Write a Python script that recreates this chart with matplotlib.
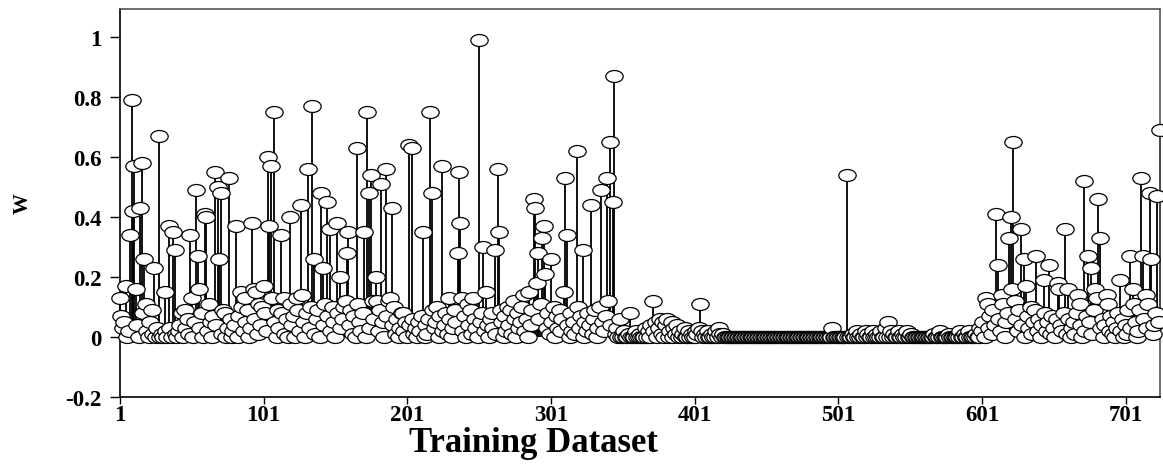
import matplotlib
matplotlib.use("Agg")
import matplotlib.pyplot as plt
import numpy as np
from matplotlib.path import Path

# weights per training sample (index 1..725)
w_001_100 = [
    0.13, 0.07, 0.03, 0.05, 0.17, 0.0, 0.02, 0.34, 0.79, 0.42, 0.57, 0.16, 0.04, 0.0, 0.43, 0.58, 0.08, 0.26, 0.11, 0.02,
    0.0, 0.05, 0.09, 0.01, 0.23, 0.0, 0.03, 0.67, 0.0, 0.01, 0.0, 0.15, 0.02, 0.0, 0.37, 0.03, 0.0, 0.35, 0.29, 0.01,
    0.0, 0.02, 0.04, 0.08, 0.0, 0.09, 0.03, 0.06, 0.01, 0.34, 0.13, 0.0, 0.05, 0.49, 0.27, 0.16, 0.03, 0.08, 0.0, 0.41,
    0.40, 0.02, 0.11, 0.05, 0.0, 0.07, 0.55, 0.04, 0.50, 0.26, 0.48, 0.01, 0.09, 0.08, 0.0, 0.03, 0.53, 0.06, 0.0, 0.02,
    0.04, 0.37, 0.0, 0.07, 0.15, 0.10, 0.02, 0.13, 0.05, 0.09, 0.0, 0.03, 0.38, 0.16, 0.06, 0.15, 0.01, 0.11, 0.04, 0.10,
]
w_101_200 = [
    0.17, 0.08, 0.02, 0.60, 0.37, 0.57, 0.13, 0.75, 0.05, 0.0, 0.09, 0.03, 0.34, 0.08, 0.13, 0.01, 0.06, 0.0, 0.40, 0.11,
    0.04, 0.07, 0.0, 0.13, 0.09, 0.02, 0.44, 0.14, 0.05, 0.0, 0.08, 0.56, 0.03, 0.10, 0.77, 0.26, 0.01, 0.06, 0.09, 0.0,
    0.48, 0.23, 0.04, 0.11, 0.45, 0.07, 0.36, 0.02, 0.10, 0.05, 0.0, 0.38, 0.08, 0.20, 0.03, 0.06, 0.10, 0.12, 0.28, 0.35,
    0.04, 0.09, 0.01, 0.07, 0.0, 0.63, 0.11, 0.05, 0.02, 0.08, 0.35, 0.0, 0.75, 0.48, 0.03, 0.54, 0.12, 0.06, 0.20, 0.12,
    0.02, 0.09, 0.51, 0.05, 0.0, 0.56, 0.07, 0.12, 0.13, 0.43, 0.04, 0.10, 0.01, 0.06, 0.0, 0.03, 0.08, 0.08, 0.02, 0.05,
]
w_201_300 = [
    0.0, 0.64, 0.04, 0.63, 0.06, 0.01, 0.03, 0.0, 0.05, 0.02, 0.07, 0.35, 0.0, 0.04, 0.01, 0.06, 0.75, 0.48, 0.09, 0.03,
    0.05, 0.10, 0.0, 0.07, 0.57, 0.02, 0.04, 0.08, 0.01, 0.13, 0.06, 0.0, 0.03, 0.09, 0.05, 0.28, 0.55, 0.38, 0.13, 0.02,
    0.07, 0.0, 0.11, 0.04, 0.09, 0.01, 0.13, 0.06, 0.03, 0.0, 0.99, 0.05, 0.08, 0.30, 0.02, 0.15, 0.04, 0.0, 0.06, 0.08,
    0.03, 0.29, 0.01, 0.56, 0.35, 0.09, 0.05, 0.0, 0.07, 0.02, 0.10, 0.04, 0.09, 0.01, 0.12, 0.06, 0.0, 0.08, 0.03, 0.05,
    0.10, 0.14, 0.02, 0.06, 0.0, 0.15, 0.04, 0.09, 0.46, 0.43, 0.18, 0.28, 0.06, 0.11, 0.33, 0.37, 0.21, 0.03, 0.08, 0.01,
]
w_301_420 = [
    0.26, 0.05, 0.10, 0.0, 0.07, 0.03, 0.09, 0.02, 0.06, 0.15, 0.53, 0.34, 0.04, 0.0, 0.08, 0.02, 0.05, 0.01, 0.62, 0.10,
    0.03, 0.07, 0.29, 0.0, 0.05, 0.02, 0.08, 0.04, 0.44, 0.01, 0.06, 0.09, 0.0, 0.03, 0.10, 0.49, 0.05, 0.02, 0.07, 0.53,
    0.12, 0.65, 0.04, 0.45, 0.87, 0.01, 0.03, 0.0, 0.06, 0.0, 0.0, 0.02, 0.0, 0.0, 0.01, 0.08, 0.0, 0.0, 0.0, 0.02,
    0.0, 0.0, 0.01, 0.0, 0.0, 0.0, 0.03, 0.0, 0.02, 0.0, 0.04, 0.12, 0.02, 0.05, 0.0, 0.03, 0.06, 0.01, 0.05, 0.0,
    0.04, 0.06, 0.0, 0.02, 0.05, 0.0, 0.03, 0.01, 0.04, 0.0, 0.02, 0.0, 0.01, 0.03, 0.0, 0.0, 0.02, 0.0, 0.01, 0.0,
    0.0, 0.02, 0.01, 0.03, 0.11, 0.02, 0.0, 0.01, 0.0, 0.02, 0.0, 0.0, 0.01, 0.0, 0.0, 0.02, 0.0, 0.03, 0.01, 0.0,
]
w_421_600 = [
    0.01, 0.0, 0.0, 0.0, 0.0, 0.0, 0.0, 0.0, 0.0, 0.0, 0.0, 0.0, 0.0, 0.0, 0.0, 0.0, 0.0, 0.0, 0.0, 0.0,
    0.0, 0.0, 0.0, 0.0, 0.0, 0.0, 0.0, 0.0, 0.0, 0.0, 0.0, 0.0, 0.0, 0.0, 0.0, 0.0, 0.0, 0.0, 0.0, 0.0,
    0.0, 0.0, 0.0, 0.0, 0.0, 0.0, 0.0, 0.0, 0.0, 0.0, 0.0, 0.0, 0.0, 0.0, 0.0, 0.0, 0.0, 0.0, 0.0, 0.0,
    0.0, 0.0, 0.0, 0.0, 0.0, 0.0, 0.0, 0.0, 0.0, 0.0, 0.0, 0.0, 0.0, 0.0, 0.0, 0.0, 0.03, 0.0, 0.0, 0.0,
    0.0, 0.0, 0.0, 0.0, 0.0, 0.0, 0.54, 0.0, 0.0, 0.0, 0.01, 0.0, 0.0, 0.02, 0.0, 0.0, 0.01, 0.0, 0.0, 0.02,
    0.0, 0.01, 0.0, 0.0, 0.02, 0.0, 0.0, 0.01, 0.0, 0.0, 0.02, 0.0, 0.0, 0.03, 0.0, 0.05, 0.0, 0.02, 0.0, 0.01,
    0.0, 0.0, 0.02, 0.0, 0.0, 0.01, 0.0, 0.0, 0.02, 0.0, 0.0, 0.01, 0.0, 0.0, 0.0, 0.0, 0.0, 0.0, 0.0, 0.0,
    0.0, 0.0, 0.0, 0.0, 0.0, 0.0, 0.0, 0.01, 0.0, 0.0, 0.0, 0.02, 0.0, 0.0, 0.0, 0.0, 0.0, 0.01, 0.0, 0.0,
    0.0, 0.0, 0.0, 0.0, 0.0, 0.02, 0.0, 0.0, 0.01, 0.0, 0.0, 0.02, 0.0, 0.0, 0.0, 0.0, 0.01, 0.0, 0.0, 0.03,
]
w_601_725 = [
    0.02, 0.05, 0.0, 0.13, 0.11, 0.03, 0.07, 0.01, 0.09, 0.04, 0.41, 0.24, 0.06, 0.02, 0.14, 0.11, 0.0, 0.05, 0.08, 0.33,
    0.40, 0.16, 0.65, 0.12, 0.06, 0.02, 0.09, 0.36, 0.04, 0.26, 0.0, 0.17, 0.07, 0.03, 0.10, 0.01, 0.05, 0.09, 0.27, 0.02,
    0.06, 0.0, 0.04, 0.19, 0.08, 0.02, 0.05, 0.24, 0.01, 0.07, 0.03, 0.0, 0.06, 0.18, 0.16, 0.04, 0.02, 0.08, 0.36, 0.01,
    0.16, 0.06, 0.0, 0.03, 0.05, 0.01, 0.08, 0.14, 0.11, 0.04, 0.0, 0.52, 0.02, 0.07, 0.27, 0.05, 0.23, 0.01, 0.09, 0.16,
    0.13, 0.46, 0.33, 0.03, 0.06, 0.0, 0.04, 0.14, 0.11, 0.02, 0.07, 0.01, 0.05, 0.0, 0.03, 0.08, 0.19, 0.02, 0.06, 0.0,
    0.04, 0.01, 0.09, 0.27, 0.03, 0.16, 0.11, 0.05, 0.0, 0.02, 0.09, 0.53, 0.27, 0.06, 0.14, 0.03, 0.11, 0.48, 0.26, 0.01,
    0.04, 0.08, 0.47, 0.05, 0.69,
]

x_ticks = [1, 101, 201, 301, 401, 501, 601, 701]
y_ticks = [-0.2, 0, 0.2, 0.4, 0.6, 0.8, 1]
y_tick_labels = ["-0.2", "0", "0.2", "0.4", "0.6", "0.8", "1"]

w = np.array(w_001_100 + w_101_200 + w_201_300 + w_301_420 + w_421_600 + w_601_725)
idx = np.arange(1, len(w) + 1)

plt.rcParams["font.family"] = ["Liberation Serif", "DejaVu Serif"]
plt.rcParams["font.weight"] = "bold"

# flattened circle -> ellipse marker like the original
circ = Path.unit_circle()
ellipse = Path(circ.vertices * np.array([1.45, 1.0]), circ.codes)

fig = plt.figure(figsize=(11.63, 4.77), dpi=100)
ax = fig.add_axes([0.1032, 0.1656, 0.8942, 0.8134])

ax.vlines(idx, 0, w, color="black", lw=1.3, zorder=2, clip_on=False)
ax.plot(idx, w, linestyle="none", marker=ellipse, markersize=12.5,
        markerfacecolor="white", markeredgecolor="black", markeredgewidth=0.9,
        zorder=3, clip_on=False)

ax.set_xlim(1, 725)
ax.set_ylim(-0.2, 1.093)
ax.set_xticks(x_ticks)
ax.set_xticklabels([str(t) for t in x_ticks])
ax.set_yticks(y_ticks)
ax.set_yticklabels(y_tick_labels)
ax.tick_params(axis="y", direction="out", length=7, width=1, labelsize=16.5, pad=6)
ax.tick_params(axis="x", direction="out", length=5, width=1, labelsize=16.5, pad=0)
for lab in ax.get_xticklabels() + ax.get_yticklabels():
    lab.set_fontweight("bold")

for side in ["left", "bottom"]:
    ax.spines[side].set_linewidth(1.2)
    ax.spines[side].set_color("black")
for side in ["top", "right"]:
    ax.spines[side].set_linewidth(1.2)
    ax.spines[side].set_color("#555555")

ax.set_xlabel("Training Dataset", fontsize=25, fontweight="bold", va="center")
ax.xaxis.set_label_coords(0.398, -0.118)
ax.set_ylabel("W", fontsize=15, fontweight="bold", labelpad=24)

fig.savefig("out.png", dpi=100)
